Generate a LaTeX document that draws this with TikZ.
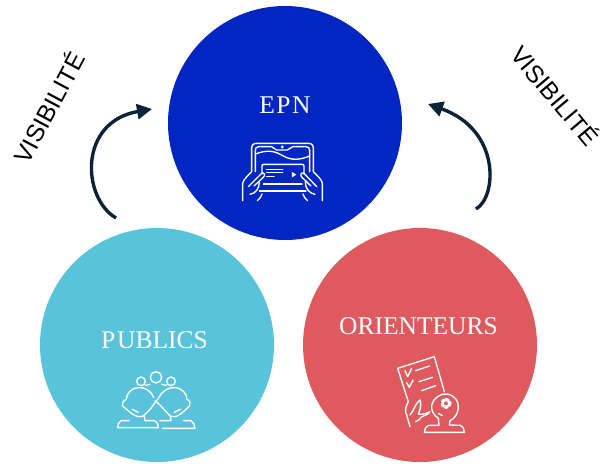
\documentclass[tikz,border=0pt]{standalone}
\usepackage{fontspec}
\setmainfont{Liberation Serif}
\newfontfamily\sansf{Liberation Sans}
\usetikzlibrary{arrows.meta}
\definecolor{epnblue}{HTML}{0226C2}
\definecolor{pubblue}{HTML}{58C3DB}
\definecolor{orired}{HTML}{DE5A5F}
\definecolor{arrowdark}{HTML}{0B2239}
\tikzset{
  disc/.style={circle,minimum size=234pt,inner sep=0pt},
  title/.style={text=white,font=\fontsize{25.5}{25.5}\selectfont,inner sep=0pt},
  vis/.style={text=black,font=\sansf\fontsize{24.5}{24.5}\selectfont,inner sep=0pt},
  flow/.style={draw=arrowdark,line width=3.4pt,-{Triangle[length=15pt,width=15pt]}},
  icon/.style={draw=white,line width=1.35pt,line cap=round,line join=round,fill=none},
  zoomed/.style={x=0.3333pt,y=-0.3333pt}
}
\begin{document}
\begin{tikzpicture}[x=1pt,y=-1pt]
\useasboundingbox (0,0) rectangle (602,463);
\node[disc,fill=epnblue] (epn) at (285,123) {};
\node[disc,fill=pubblue] (pub) at (157,345) {};
\node[disc,fill=orired] (ori) at (420,345) {};
\node[title] (tepn) at (285,105) {E\kern1.5pt P\kern1.5pt N};
\node[title] (tpub) at (154.5,340) {P\kern2pt UBLICS};
\node[title] (tori) at (418.5,326) {ORIENTEURS};
\node[vis,rotate=62] (v1) at (48,107) {VISIBILITÉ};
\node[vis,rotate=-50] (v2) at (556,95) {VISIBILITÉ};
\coordinate (a1s) at (116,218);
\coordinate (a1e) at (152,109);
\coordinate (a2s) at (476,209);
\coordinate (a2e) at (428,104);
\draw[flow] (a1s) .. controls (82,198) and (78,122) .. (a1e);
\draw[flow] (a2s) .. controls (497,197) and (501,130) .. (a2e);
% tablet icon
\begin{scope}[shift={(230,130)},zoomed]
\draw[icon] (65,125) -- (65,55) .. controls (65,45) and (70,40) .. (80,40) -- (235,40) .. controls (245,40) and (250,45) .. (250,55) -- (250,125);
\draw[icon] (76,125) -- (76,60) .. controls (76,54) and (80,50) .. (86,50) -- (125,50) .. controls (132,50) and (132,60) .. (140,60) -- (172,60) .. controls (180,60) and (180,50) .. (188,50) -- (228,50) .. controls (235,50) and (239,54) .. (239,60) -- (239,125);
\draw[icon] (76,72) .. controls (110,60) and (130,60) .. (160,78) .. controls (185,92) and (210,90) .. (239,78);
\draw[icon] (96,132) -- (96,108) .. controls (96,104) and (98,103) .. (102,103) -- (216,103) .. controls (220,103) and (222,104) .. (222,108) -- (222,132);
\draw[icon] (100,162) -- (216,162);
\draw[icon] (110,118) -- (158,118) (110,128) -- (158,128) (110,140) -- (132,140);
\fill[white] (186,126) -- (199,134) -- (186,142) -- cycle;
\fill[white] (157,51) circle (5);
% hands
\draw[icon] (65,125) .. controls (50,140) and (40,150) .. (38,160) -- (38,212);
\draw[icon] (250,125) .. controls (265,140) and (276,150) .. (277,160) -- (277,212);
\draw[icon] (55,170) -- (95,130) .. controls (102,125) and (108,135) .. (100,142) -- (72,168);
\draw[icon] (260,170) -- (222,130) .. controls (215,125) and (208,135) .. (216,142) -- (243,168);
\draw[icon] (60,193) .. controls (78,190) and (88,175) .. (88,155);
\draw[icon] (255,193) .. controls (237,190) and (226,175) .. (226,155);
\draw[icon] (88,183) -- (228,183);
\draw[icon] (82,212) .. controls (90,205) and (95,198) .. (96,192);
\draw[icon] (233,212) .. controls (225,205) and (220,198) .. (219,192);
\end{scope}
% publics icon
\begin{scope}[shift={(105,360)},zoomed]
\draw[icon] (153,52) circle (17);
\draw[icon] (108,64) circle (13);
\draw[icon] (198,64) circle (13);
\draw[icon] (122,76) -- (135,73) (170,73) -- (184,76);
\draw[icon] (146,112) .. controls (140,95) and (120,80) .. (100,83) .. controls (78,85) and (65,100) .. (64,118) .. controls (55,122) and (50,130) .. (52,137) .. controls (60,145) and (68,150) .. (73,155) .. controls (85,165) and (100,175) .. (115,168) .. controls (122,160) and (130,155) .. (136,147) -- (160,115);
\draw[icon] (162,112) .. controls (170,95) and (190,80) .. (210,83) .. controls (232,85) and (245,100) .. (246,118) .. controls (255,122) and (258,130) .. (254,137) .. controls (248,145) and (240,150) .. (235,155) .. controls (225,165) and (210,175) .. (195,168) .. controls (188,160) and (175,145) .. (165,135) -- (150,122);
\draw[icon] (82,148) -- (100,157) (226,148) -- (208,157);
\draw[icon] (72,182) -- (48,182) .. controls (40,187) and (38,195) .. (38,203) -- (160,203) .. controls (160,195) and (158,187) .. (148,182) -- (120,182) -- (118,170);
\draw[icon] (172,205) -- (270,205) .. controls (270,195) and (265,187) .. (258,182) -- (236,182);
\draw[icon] (198,182) -- (165,182) (196,170) -- (198,182);
\end{scope}
% orienteurs icon
\begin{scope}[shift={(385,350)},zoomed]
\draw[icon] (38,55) -- (148,20) -- (178,125);
\draw[icon] (38,55) -- (70,155);
\draw[icon] (92,62) -- (133,48) (102,95) -- (143,82) (110,122) -- (152,107);
\draw[icon] (60,62) -- (68,80) -- (80,55);
\draw[icon] (65,98) -- (73,112) -- (84,90);
\draw[icon] (70,155) .. controls (62,170) and (58,185) .. (65,195) -- (75,230);
\draw[icon] (75,195) .. controls (85,185) and (88,165) .. (105,150) .. controls (110,165) and (105,180) .. (100,192) .. controls (112,195) and (125,190) .. (135,185);
\draw[icon] (92,215) .. controls (100,212) and (105,208) .. (108,202) -- (132,190);
\draw[icon] (160,205) .. controls (145,195) and (138,180) .. (140,165) .. controls (145,145) and (165,130) .. (185,132) .. controls (210,135) and (222,155) .. (220,175) .. controls (218,195) and (205,208) .. (195,212) -- (193,225) -- (225,226) .. controls (235,230) and (238,238) .. (238,247) -- (118,247) .. controls (118,238) and (122,230) .. (132,226) -- (162,226) -- (160,205);
\draw[icon] (160,190) -- (172,197);
\draw[icon,line width=2.6pt,dash pattern=on 2.5pt off 2.5pt] (183,160) circle (13);
\draw[icon,line width=1.6pt] (183,160) circle (9);
\end{scope}
\end{tikzpicture}
\end{document}
